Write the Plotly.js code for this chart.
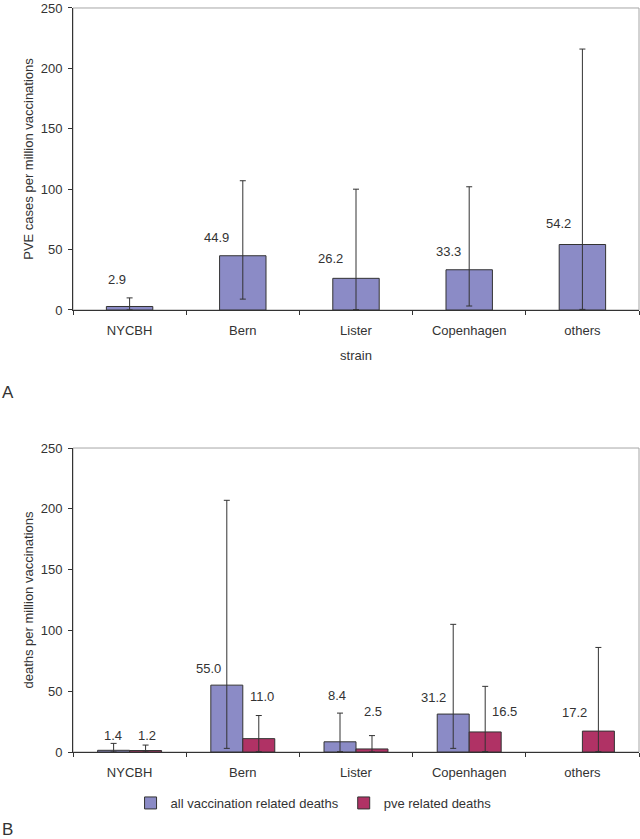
<!DOCTYPE html>
<html>
<head>
<meta charset="utf-8">
<script src="https://cdn.plot.ly/plotly-3.0.1.min.js"></script>
<style>html,body{margin:0;padding:0;background:#fff;}#chart{width:640px;height:839px;}</style>
</head>
<body>
<div id="chart"></div>
<script>
// ---- data ----
const strains = ['NYCBH', 'Bern', 'Lister', 'Copenhagen', 'others'];

// Panel A: PVE cases per million vaccinations (value, upper and lower CI bounds)
const pveCases      = [2.9, 44.9, 26.2, 33.3, 54.2];
const pveCasesHigh  = [10, 107, 100, 102, 216];
const pveCasesLow   = [0.1, 9, 0.3, 3.3, 0.5];
const pveCasesText  = ['2.9', '44.9', '26.2', '33.3', '54.2'];

// Panel B: deaths per million vaccinations
const allDeaths      = [1.4, 55.0, 8.4, 31.2, null];
const allDeathsHigh  = [7.1, 207, 32, 105, null];
const allDeathsLow   = [0.03, 3, 0.3, 3, null];
const allDeathsText  = ['1.4', '55.0', '8.4', '31.2', null];

const pveDeaths      = [1.2, 11.0, 2.5, 16.5, 17.2];
const pveDeathsHigh  = [5.7, 30, 13.5, 54, 86];
const pveDeathsLow   = [0.02, 0.3, 0.06, 0.4, 0.4];
const pveDeathsText  = ['1.2', '11.0', '2.5', '16.5', '17.2'];

// ---- label offsets (pixels, styling only) ----
const offA    = [[-13, 27], [-26, 18], [-26, 20], [-21, 18], [-24, 21]];
const offBall = [[-17, 15], [-34, 17], [-19, 46], [-36, 17], [0, 0]];
const offBpve = [[17, 15], [19, 42], [17, 37], [35, 20], [-8, 19]];

// ---- style ----
const BLUE = '#8b8bc6';
const RED = '#b03265';
const INK = '#333333';
const FONT = 'Liberation Sans, Arial, sans-serif';
const FS = 13;

function up(v, hi) { return v.map((x, i) => x == null ? null : hi[i] - x); }
function down(v, lo) { return v.map((x, i) => x == null ? null : x - lo[i]); }

const errStyle = {type: 'data', symmetric: false, color: INK, thickness: 1, width: 3, visible: true};

const traces = [
  {
    type: 'bar', x: strains, y: pveCases, xaxis: 'x', yaxis: 'y', width: 0.41,
    marker: {color: BLUE, line: {color: INK, width: 1}},
    error_y: Object.assign({}, errStyle, {array: up(pveCases, pveCasesHigh), arrayminus: down(pveCases, pveCasesLow)}),
    showlegend: false
  },
  {
    type: 'bar', name: 'all vaccination related deaths', x: strains, y: allDeaths, xaxis: 'x2', yaxis: 'y2',
    marker: {color: BLUE, line: {color: INK, width: 1}},
    error_y: Object.assign({}, errStyle, {array: up(allDeaths, allDeathsHigh), arrayminus: down(allDeaths, allDeathsLow)})
  },
  {
    type: 'bar', name: 'pve related deaths', x: strains, y: pveDeaths, xaxis: 'x2', yaxis: 'y2',
    marker: {color: RED, line: {color: INK, width: 1}},
    error_y: Object.assign({}, errStyle, {array: up(pveDeaths, pveDeathsHigh), arrayminus: down(pveDeaths, pveDeathsLow)})
  }
];

const annotations = [];
strains.forEach((s, i) => {
  annotations.push({xref: 'x', yref: 'y', x: s, y: pveCases[i], text: pveCasesText[i], showarrow: false,
    xshift: offA[i][0], yshift: offA[i][1], font: {family: FONT, size: FS, color: INK}});
  if (allDeaths[i] != null) {
    annotations.push({xref: 'x2', yref: 'y2', x: s, y: allDeaths[i], text: allDeathsText[i], showarrow: false,
      xshift: offBall[i][0], yshift: offBall[i][1], font: {family: FONT, size: FS, color: INK}});
  }
  annotations.push({xref: 'x2', yref: 'y2', x: s, y: pveDeaths[i], text: pveDeathsText[i], showarrow: false,
    xshift: offBpve[i][0], yshift: offBpve[i][1], font: {family: FONT, size: FS, color: INK}});
});
annotations.push({xref: 'paper', yref: 'paper', x: -0.115, y: 0.532, text: 'A', showarrow: false,
  xanchor: 'center', yanchor: 'middle', font: {family: FONT, size: 17, color: INK}});
annotations.push({xref: 'paper', yref: 'paper', x: -0.115, y: 0.006, text: 'B', showarrow: false,
  xanchor: 'center', yanchor: 'middle', font: {family: FONT, size: 17, color: INK}});

const xCommon = {
  type: 'category', showgrid: false, zeroline: false, showline: true, linecolor: INK, linewidth: 1,
  ticks: 'outside', tickson: 'boundaries', ticklen: 4, tickcolor: INK, ticklabelstandoff: 8,
  tickfont: {family: FONT, size: FS, color: INK}, fixedrange: true
};
const yCommon = {
  range: [0, 250], dtick: 50, showgrid: false, zeroline: false, showline: true, linecolor: INK, linewidth: 1,
  ticks: 'outside', ticklen: 4, tickcolor: INK, ticklabelstandoff: 3, ticklabeloverflow: 'allow',
  tickfont: {family: FONT, size: FS, color: INK}, fixedrange: true
};

const layout = {
  width: 640, height: 839,
  margin: {l: 73, r: 1, t: 5, b: 5},
  paper_bgcolor: '#ffffff', plot_bgcolor: '#ffffff',
  font: {family: FONT, size: FS, color: INK},
  barmode: 'group', bargap: 0.435, bargroupgap: 0,
  xaxis: Object.assign({}, xCommon, {anchor: 'y', domain: [0, 1],
    title: {text: 'strain', font: {family: FONT, size: FS, color: INK}, standoff: 14}}),
  yaxis: Object.assign({}, yCommon, {anchor: 'x', domain: [0.6321, 0.9964],
    title: {text: 'PVE cases per million vaccinations', font: {family: FONT, size: FS, color: INK}, standoff: 4}}),
  xaxis2: Object.assign({}, xCommon, {anchor: 'y2', domain: [0, 1]}),
  yaxis2: Object.assign({}, yCommon, {anchor: 'x2', domain: [0.0989, 0.4656],
    title: {text: 'deaths per million vaccinations', font: {family: FONT, size: FS, color: INK}, standoff: 4}}),
  shapes: [
    {type: 'rect', xref: 'x domain', yref: 'y domain', x0: 0, x1: 1, y0: 0, y1: 1, line: {color: '#a6a6a6', width: 1}, layer: 'below'},
    {type: 'rect', xref: 'x2 domain', yref: 'y2 domain', x0: 0, x1: 1, y0: 0, y1: 1, line: {color: '#a6a6a6', width: 1}, layer: 'below'}
  ],
  legend: {orientation: 'h', x: 0.425, xanchor: 'center', y: 0.0374, yanchor: 'middle',
    font: {family: FONT, size: FS, color: INK}, bgcolor: 'rgba(0,0,0,0)', itemwidth: 30, traceorder: 'normal'},
  annotations: annotations,
  showlegend: true
};

Plotly.newPlot('chart', traces, layout, {displayModeBar: false, staticPlot: true});
</script>
</body>
</html>
